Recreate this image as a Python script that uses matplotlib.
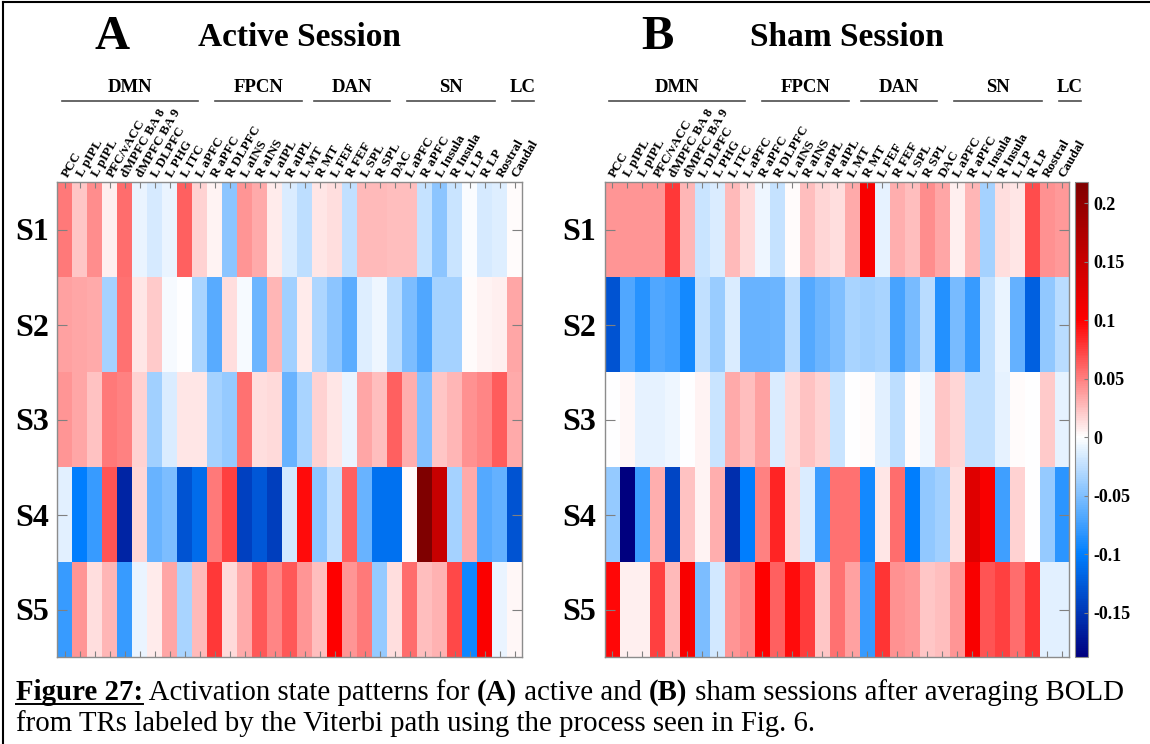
import numpy as np
import matplotlib
matplotlib.use("Agg")
import matplotlib.pyplot as plt
from matplotlib.colors import LinearSegmentedColormap
from matplotlib.lines import Line2D
import matplotlib.transforms as mtransforms

plt.rcParams['font.family'] = ['Liberation Serif', 'DejaVu Serif']
plt.rcParams['axes.unicode_minus'] = False

REGIONS = ["PCC", "L pIPL", "L pIPL", "PFC/vACC", "dMPFC BA 8", "dMPFC BA 9",
           "L DLPFC", "L PHG", "L ITC", "L aPFC", "R aPFC", "R DLPFC", "L aINS",
           "R aINS", "L aIPL", "R aIPL", "L MT", "R MT", "L FEF", "R FEF",
           "L SPL", "R SPL", "DAC", "L aPFC", "R aPFC", "L Insula", "R Insula",
           "L LP", "R LP", "Rostral", "Caudal"]

STATES = ["S1", "S2", "S3", "S4", "S5"]

# network name, first and last column covered by the bracket line
NETWORKS = [("DMN", -0.2, 8.9), ("FPCN", 10.0, 15.8), ("DAN", 16.6, 21.7),
            ("SN", 22.8, 28.7), ("LC", 29.8, 31.3)]

ACTIVE_S1 = [0.053, 0.022, 0.045, 0.006, 0.057, -0.008, -0.016, -0.008, 0.061, 0.018, 0.004,
             -0.045, 0.041, 0.033, 0.008, -0.014, -0.025, 0.010, 0.012, -0.024, 0.027, 0.027,
             0.025, 0.025, -0.022, -0.045, -0.020, -0.002, -0.016, -0.012, 0.002]
ACTIVE_S2 = [0.037, 0.035, 0.033, -0.035, 0.055, 0.009, 0.020, -0.004, 0.000, -0.033, -0.065,
             0.013, -0.004, -0.057, 0.029, -0.037, 0.008, -0.031, -0.045, -0.063, -0.012, -0.006,
             -0.027, -0.051, -0.069, -0.035, -0.035, 0.002, 0.004, 0.006, 0.035]
ACTIVE_S3 = [0.041, 0.035, 0.024, 0.053, 0.049, 0.018, -0.037, -0.014, 0.010, 0.010, -0.035,
             -0.041, 0.055, 0.012, 0.014, -0.059, -0.033, 0.018, 0.009, -0.008, 0.035, 0.025,
             0.061, 0.031, -0.047, 0.022, 0.029, 0.043, 0.047, 0.063, 0.033]
ACTIVE_S4 = [-0.011, -0.100, -0.078, 0.067, -0.162, 0.016, -0.059, -0.051, -0.130, -0.112, 0.053,
             0.075, -0.143, -0.127, -0.145, -0.018, 0.095, -0.045, -0.024, 0.061, -0.059, -0.109,
             -0.109, 0.002, 0.218, 0.151, -0.035, 0.033, -0.067, -0.061, -0.130]
ACTIVE_S5 = [-0.078, 0.041, 0.013, 0.029, -0.078, -0.008, 0.008, 0.035, -0.033, 0.027, 0.078,
             0.014, 0.033, 0.065, 0.047, 0.065, 0.041, 0.025, 0.100, 0.041, 0.053, -0.041,
             0.013, 0.057, 0.025, 0.030, 0.071, -0.094, 0.103, -0.008, 0.003]

SHAM_S1 = [0.041, 0.041, 0.041, 0.041, 0.078, 0.029, -0.020, -0.014, 0.027, 0.014, -0.006,
           -0.022, 0.002, 0.025, 0.016, 0.013, 0.033, 0.105, -0.009, 0.031, 0.025, 0.045,
           0.035, 0.007, 0.029, -0.035, 0.013, 0.009, 0.069, 0.043, 0.039]
SHAM_S2 = [-0.130, -0.069, -0.084, -0.069, -0.073, -0.092, -0.024, -0.039, -0.014, -0.059, -0.059,
           -0.057, -0.027, -0.067, -0.057, -0.050, -0.033, -0.037, -0.033, -0.071, -0.053, -0.027,
           -0.086, -0.053, -0.078, -0.024, -0.008, -0.061, -0.120, -0.043, -0.027]
SHAM_S3 = [0.000, 0.003, -0.009, -0.009, -0.006, 0.000, 0.005, -0.020, 0.033, 0.025, 0.037,
           -0.014, 0.014, 0.024, 0.018, -0.020, 0.000, 0.002, -0.011, -0.025, 0.002, -0.006,
           0.022, 0.016, -0.024, -0.024, -0.009, 0.002, 0.000, 0.020, -0.010]
SHAM_S4 = [-0.041, -0.188, -0.076, 0.031, -0.140, 0.024, 0.004, 0.031, -0.155, -0.100, 0.049,
           0.086, 0.016, -0.014, -0.076, 0.055, 0.055, -0.092, 0.010, 0.057, -0.100, -0.043,
           -0.037, 0.013, 0.128, 0.105, -0.075, 0.018, 0.000, -0.041, -0.082]
SHAM_S5 = [0.096, 0.007, 0.007, 0.075, 0.027, 0.105, -0.051, -0.018, 0.041, 0.047, 0.100,
           0.061, 0.095, 0.076, 0.022, 0.055, 0.037, -0.078, 0.080, 0.043, 0.039, 0.022,
           0.025, 0.041, 0.105, 0.067, 0.075, 0.057, 0.080, -0.011, -0.011]

CBAR_TICKS = [-0.15, -0.1, -0.05, 0, 0.05, 0.1, 0.15, 0.2]
CBAR_LABELS = ["-0.15", "-0.1", "-0.05", "0", "0.05", "0.1", "0.15", "0.2"]

active = np.array([ACTIVE_S1, ACTIVE_S2, ACTIVE_S3, ACTIVE_S4, ACTIVE_S5])
sham = np.array([SHAM_S1, SHAM_S2, SHAM_S3, SHAM_S4, SHAM_S5])

# shared colour limits, white pinned at zero
vmin = min(active.min(), sham.min())
vmax = max(active.max(), sham.max())
anchors = [vmin, -0.1, 0.0, 0.1, vmax]
colours = [(0, 0, 0.5), (0, 0.5, 1), (1, 1, 1), (1, 0, 0), (0.5, 0, 0)]
pos = [(a - vmin) / (vmax - vmin) for a in anchors]
cmap = LinearSegmentedColormap.from_list("bwr_state", list(zip(pos, colours)))

W, H = 1150, 744
fig = plt.figure(figsize=(W / 100, H / 100), dpi=100)


def fx(px):
    return px / W


def fy(py):
    return 1 - py / H


ax_a = fig.add_axes([fx(57.3), fy(657), fx(465), 475 / H])
ax_b = fig.add_axes([fx(604.7), fy(657), fx(464.3), 475 / H])
cax = fig.add_axes([fx(1075), fy(657), fx(13), 475 / H])


def draw_panel(ax, data):
    im = ax.imshow(data, cmap=cmap, vmin=vmin, vmax=vmax, aspect='auto',
                   interpolation='nearest')
    ax.set_xticks(range(len(REGIONS)))
    ax.set_xticklabels(REGIONS, rotation=60, ha='left', va='center',
                       rotation_mode='anchor', fontsize=9.5, fontweight='bold')
    ax.set_yticks(range(len(STATES)))
    ax.set_yticklabels(STATES, fontsize=23, fontweight='bold')
    ax.tick_params(axis='x', top=True, bottom=True, labeltop=True, labelbottom=False,
                   direction='in', length=4, pad=4, color='0.5')
    ax.tick_params(axis='y', left=True, right=True, direction='in', length=7,
                   pad=6, color='0.5')
    for s in ax.spines.values():
        s.set_color('0.55')
        s.set_linewidth(1.0)

    trans = mtransforms.blended_transform_factory(ax.transData, ax.transAxes)
    for name, x0, x1 in NETWORKS:
        ax.add_line(Line2D([x0, x1], [1.171, 1.171], transform=trans,
                           color='0.3', lw=1.2, clip_on=False))
        ax.text((x0 + x1) / 2, 1.2, name, transform=trans, ha='center',
                va='center', fontsize=13.5, fontweight='bold')
    return im


im = draw_panel(ax_a, active)
draw_panel(ax_b, sham)

cb = fig.colorbar(im, cax=cax, ticks=CBAR_TICKS)
cb.ax.set_yticklabels(CBAR_LABELS, fontsize=13, fontweight='bold')
cb.ax.tick_params(direction='in', length=3, color='0.5', pad=4)
cb.outline.set_edgecolor('0.55')

# panel titles
fig.text(fx(112), fy(37), "A", ha='center', va='center', fontsize=35, fontweight='bold')
fig.text(fx(198), fy(38), "Active Session", ha='left', va='center', fontsize=24,
         fontweight='bold')
fig.text(fx(657), fy(37), "B", ha='center', va='center', fontsize=35, fontweight='bold')
fig.text(fx(750), fy(38), "Sham Session", ha='left', va='center', fontsize=24,
         fontweight='bold')

# outer frame, top and left edges only
fig.add_artist(Line2D([fx(3), fx(3)], [0, fy(2)], transform=fig.transFigure,
                      color='black', lw=1.5))
fig.add_artist(Line2D([fx(3), 1], [fy(2), fy(2)], transform=fig.transFigure,
                      color='black', lw=1.5))

# caption, built piece by piece so bold runs sit inline
renderer = fig.canvas.get_renderer()
cap_size = 20.8
line1 = [("Figure 27:", 'bold'), (" Activation state patterns for ", 'normal'),
         ("(A)", 'bold'), (" active and ", 'normal'), ("(B)", 'bold'),
         (" sham sessions after averaging BOLD", 'normal')]
x = fx(16)
for i, (txt, weight) in enumerate(line1):
    t = fig.text(x, fy(700), txt, ha='left', va='baseline', fontsize=cap_size,
                 fontweight=weight)
    bb = t.get_window_extent(renderer)
    if i == 0:
        fig.add_artist(Line2D([bb.x0 / W, bb.x1 / W], [fy(704), fy(704)],
                              transform=fig.transFigure, color='black', lw=1.4))
    x = bb.x1 / W
fig.text(fx(16), fy(731), "from TRs labeled by the Viterbi path using the process seen in Fig. 6.",
         ha='left', va='baseline', fontsize=cap_size)

plt.savefig("out.png", dpi=100)
